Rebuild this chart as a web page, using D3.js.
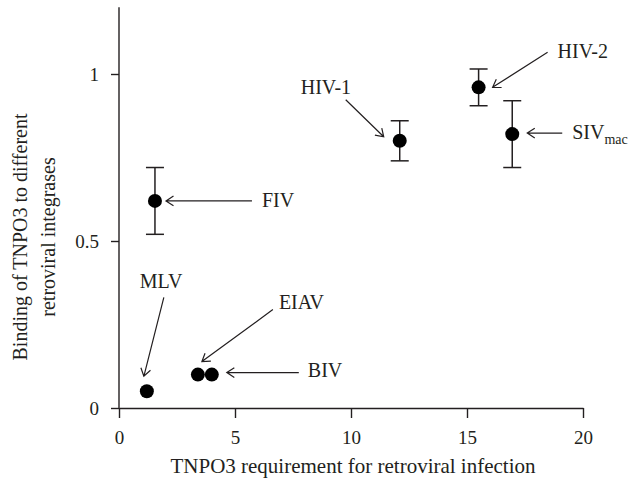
<!DOCTYPE html>
<html>
<head>
  <meta charset="utf-8">
<script src="https://d3js.org/d3.v7.min.js"></script>
<style type="text/css">
	body { margin: 0; background: #fff; }
	text { font-family: "Liberation Serif", "DejaVu Serif", serif; fill: #231f20; }
</style>
  <script>
	// values
	var viruses     = [ "FIV", "HIV-1", "HIV-2", "SIV", "MLV", "EIAV", "BIV" ];
	var subscripts  = [ "", "", "", "mac", "", "", "" ];
	var requirement = [ 1.55, 12.1, 15.5, 16.95, 1.2, 3.4, 4.0 ];
	var binding     = [ 0.62, 0.80, 0.96, 0.82, 0.05, 0.10, 0.10 ];
	var errLow      = [ 0.52, 0.74, 0.905, 0.72, null, null, null ];
	var errHigh     = [ 0.72, 0.86, 1.015, 0.92, null, null, null ];
	var xTicks      = [ 0, 5, 10, 15, 20 ];
	var yTicks      = [ 0, 0.5, 1 ];
	var yTickLabels = [ "0", "0.5", "1" ];

	// label / arrow placement in px relative to the dot (layout only)
	var tailOff  = [ [97,0], [-54,-41], [69,-35], [50,-1], [17,-94], [75,-65], [87,-2] ];
	var tipOff   = [ [11,0], [-16,-4], [14,0], [15,-1], [-3,-15], [4,-13], [15,-2] ];
	var labelOff = [ [107,6], [-99,-47], [79,-29], [60,5], [-7,-103], [81,-66], [96,2] ];

	function makeChart(){
		var ink = "#231f20";
		var svg = d3.select( "#chart" ).attr( "width", 630 ).attr( "height", 480 );

		var scX = d3.scaleLinear().domain( [0,20] ).range( [119,583] );
		var scY = d3.scaleLinear().domain( [0,1.2] ).range( [408,7.2] );

		// axes
		var xAxis = svg.append( "g" ).attr( "transform", "translate(0," + scY(0) + ")" )
			.call( d3.axisBottom( scX ).tickValues( xTicks ).tickSize( 10 ).tickPadding( 13 ).tickSizeOuter( 0 ) );
		var yAxis = svg.append( "g" ).attr( "transform", "translate(" + scX(0) + ",0)" )
			.call( d3.axisLeft( scY ).tickValues( yTicks ).tickSize( 8 ).tickPadding( 12 ).tickSizeOuter( 0 )
				.tickFormat( (d,i)=>yTickLabels[i] ) );
		[ xAxis, yAxis ].forEach( function(a){
			a.select( ".domain" ).attr( "stroke", ink ).attr( "stroke-width", 1.4 );
			a.selectAll( ".tick line" ).attr( "stroke", ink ).attr( "stroke-width", 1.4 );
			a.selectAll( ".tick text" ).attr( "fill", ink ).style( "font-size", "19px" )
				.style( "font-family", "'Liberation Serif', serif" );
		} );
		// y axis goes beyond last tick to the top
		yAxis.select( ".domain" ).attr( "d", "M0," + scY(1.2) + "V" + scY(0) );

		// axis titles
		svg.append( "text" ).attr( "x", (scX(0)+scX(20))/2 + 2 ).attr( "y", 473 )
			.attr( "text-anchor", "middle" ).style( "font-size", "21px" )
			.text( "TNPO3 requirement for retroviral infection" );
		var yt = svg.append( "g" ).attr( "transform", "translate(0," + (scY(0.5) - 4) + ") rotate(-90)" );
		yt.append( "text" ).attr( "x", 0 ).attr( "y", 27 ).attr( "text-anchor", "middle" )
			.style( "font-size", "20px" ).text( "Binding of TNPO3 to different" );
		yt.append( "text" ).attr( "x", 0 ).attr( "y", 55 ).attr( "text-anchor", "middle" )
			.style( "font-size", "20px" ).text( "retroviral integrases" );

		var idx = d3.range( viruses.length );

		// error bars
		var eb = svg.selectAll( "g.err" ).data( idx.filter( i=>errLow[i] != null ) ).enter()
			.append( "g" ).attr( "class", "err" ).attr( "stroke", ink ).attr( "stroke-width", 1.5 );
		eb.append( "line" )
			.attr( "x1", i=>scX(requirement[i]) ).attr( "x2", i=>scX(requirement[i]) )
			.attr( "y1", i=>scY(errLow[i]) ).attr( "y2", i=>scY(errHigh[i]) );
		eb.append( "line" )
			.attr( "x1", i=>scX(requirement[i])-9 ).attr( "x2", i=>scX(requirement[i])+9 )
			.attr( "y1", i=>scY(errLow[i]) ).attr( "y2", i=>scY(errLow[i]) );
		eb.append( "line" )
			.attr( "x1", i=>scX(requirement[i])-9 ).attr( "x2", i=>scX(requirement[i])+9 )
			.attr( "y1", i=>scY(errHigh[i]) ).attr( "y2", i=>scY(errHigh[i]) );

		// dots
		svg.selectAll( "circle" ).data( idx ).enter().append( "circle" )
			.attr( "cx", i=>scX(requirement[i]) ).attr( "cy", i=>scY(binding[i]) )
			.attr( "r", 7 ).attr( "fill", "#000" );

		// arrows: shaft + open head
		var ar = svg.selectAll( "g.arrow" ).data( idx ).enter().append( "g" )
			.attr( "class", "arrow" ).attr( "stroke", ink ).attr( "stroke-width", 1.2 ).attr( "fill", "none" );
		ar.append( "path" ).attr( "d", function(i){
			var px = scX(requirement[i]), py = scY(binding[i]);
			var x0 = px + tailOff[i][0], y0 = py + tailOff[i][1];
			var x1 = px + tipOff[i][0],  y1 = py + tipOff[i][1];
			var a = Math.atan2( y0 - y1, x0 - x1 ), h = 9, s = 0.58;
			return "M" + x0 + "," + y0 + "L" + x1 + "," + y1 +
				"M" + (x1 + h*Math.cos(a+s)) + "," + (y1 + h*Math.sin(a+s)) +
				"L" + x1 + "," + y1 +
				"L" + (x1 + h*Math.cos(a-s)) + "," + (y1 + h*Math.sin(a-s));
		} );

		// labels
		var lb = svg.selectAll( "text.lab" ).data( idx ).enter().append( "text" )
			.attr( "class", "lab" ).style( "font-size", "20px" )
			.attr( "x", i=>scX(requirement[i]) + labelOff[i][0] )
			.attr( "y", i=>scY(binding[i]) + labelOff[i][1] );
		lb.append( "tspan" ).text( i=>viruses[i] );
		lb.filter( i=>subscripts[i] != "" ).append( "tspan" )
			.attr( "dy", 5 ).style( "font-size", "14px" ).text( i=>subscripts[i] );
	}
  </script>
</head>

<body onload="makeChart()">
	<svg id="chart"></svg>
</body>
</html>
